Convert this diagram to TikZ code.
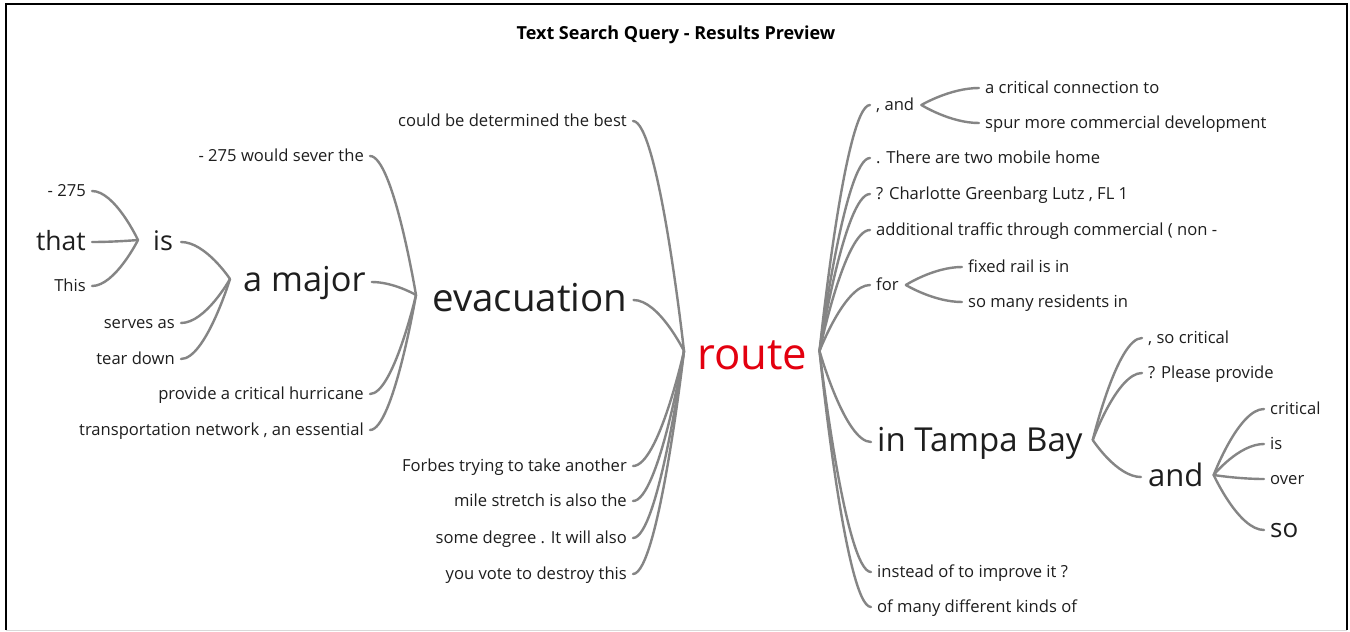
\documentclass[tikz,border=0pt]{standalone}
\usepackage{fontspec}
\setmainfont{Open Sans}
\usetikzlibrary{calc}
\definecolor{linegray}{HTML}{858585}
\definecolor{routered}{HTML}{E3000F}
\definecolor{txt}{HTML}{1E1E1E}
\newcommand\wconn[2]{\draw[conn] (#1) .. controls ($(#1)!0.5!(#1 -| #2)$) and (#2) .. (#2);}
\begin{document}
\begin{tikzpicture}[x=1pt,y=-1pt,
  word/.style={inner sep=0pt, text=txt, font=\fontsize{16.6}{18}\selectfont},
  lw/.style={word, anchor=mid east},
  rw/.style={word, anchor=mid west},
  big/.style={font=\fontsize{#1}{#1}\selectfont},
  conn/.style={draw=linegray, line width=2.4pt, line cap=round},
  titlestyle/.style={inner sep=0pt, text=black, font=\bfseries\fontsize{18}{20}\selectfont}]
\useasboundingbox (0,0) rectangle (1350,632);
\fill[white] (0,0) rectangle (1350,632);
\draw[black, line width=1.6pt] (6,630) -- (6,4) -- (1347,4) -- (1347,630);
\draw[black!15, line width=1pt] (6,630) -- (1347,630);
\node[titlestyle] (title) at (676,35) {Text Search Query - Results Preview};
% ---- left side ----
\node[lw] (n275) at (86,194) {- 275};
\node[lw, big=26.5] (that) at (86,248) {that};
\node[lw] (this) at (86,289) {This};
\node[rw, big=27] (is) at (153,248) {is};
\node[lw] (serves) at (175,326) {serves as};
\node[lw] (tear) at (175,362) {tear down};
\node[rw, big=34.3] (amajor) at (243,289) {a major};
\node[lw] (sever) at (364,159) {- 275 would sever the};
\node[lw] (provide) at (364,397) {provide a critical hurricane};
\node[lw] (transp) at (364,433) {transportation network , an essential};
\node[lw] (could) at (627,124) {could be determined the best};
\node[rw, big=38.5] (evac) at (432,309) {evacuation};
\node[lw] (forbes) at (627,469) {Forbes trying to take another};
\node[lw] (mile) at (627,504) {mile stretch is also the};
\node[lw] (degree) at (627,541) {some degree . It will also};
\node[lw] (vote) at (627,577) {you vote to destroy this};
\node[rw, big=43.7, text=routered] (route) at (697,367) {route};
% ---- right side ----
\node[rw] (and1) at (876,108) {, and};
\node[rw] (crit1) at (985,91) {a critical connection to};
\node[rw] (spur) at (985,126) {spur more commercial development};
\node[rw] (there) at (876,161) {. There are two mobile home};
\node[rw] (charl) at (876,197) {? Charlotte Greenbarg Lutz , FL 1};
\node[rw] (addit) at (876,233) {additional traffic through commercial ( non -};
\node[rw] (for) at (876,288) {for};
\node[rw] (fixed) at (968,270) {fixed rail is in};
\node[rw] (somany) at (968,305) {so many residents in};
\node[rw, big=33] (tampa) at (877,449) {in Tampa Bay};
\node[rw] (socrit) at (1148,341) {, so critical};
\node[rw] (please) at (1148,376) {? Please provide};
\node[rw, big=31] (and2) at (1148,484) {and};
\node[rw] (critical) at (1270,412) {critical};
\node[rw] (is2) at (1270,447) {is};
\node[rw] (over) at (1270,482) {over};
\node[rw, big=26] (so) at (1270,535) {so};
\node[rw] (instead) at (877,575) {instead of to improve it ?};
\node[rw] (ofmany) at (877,610) {of many different kinds of};
% ---- junction and end points ----
\foreach \n in {n275,this,serves,tear,sever,provide,transp,could,forbes,mile,degree,vote}
  \coordinate (\n-e) at ([xshift=6pt,yshift=3pt]\n.mid east);
\coordinate (that-e) at ([xshift=6pt,yshift=6pt]that.mid east);
\coordinate (amajor-e) at ([xshift=6pt,yshift=7pt]amajor.mid east);
\coordinate (is-e) at ([xshift=8pt,yshift=6pt]is.mid east);
\coordinate (evac-e) at ([xshift=6pt,yshift=9pt]evac.mid east);
\foreach \n in {crit1,spur,there,charl,addit,fixed,somany,socrit,please,critical,is2,over,instead,ofmany,and1,for}
  \coordinate (\n-w) at ([xshift=-6pt,yshift=3pt]\n.mid west);
\coordinate (so-w) at ([xshift=-6pt,yshift=5pt]so.mid west);
\coordinate (tampa-w) at ([xshift=-6pt,yshift=7pt]tampa.mid west);
\coordinate (and2-w) at ([xshift=-7pt,yshift=7pt]and2.mid west);
\coordinate (isJ) at ([xshift=-15pt,yshift=8pt]is.mid west);
\coordinate (amajorJ) at ([xshift=-13pt,yshift=10pt]amajor.mid west);
\coordinate (evacJ) at ([xshift=-16pt,yshift=14pt]evac.mid west);
\coordinate (routeL) at ([xshift=-13pt,yshift=16pt]route.mid west);
\coordinate (routeR) at ([xshift=12pt,yshift=16pt]route.mid east);
\coordinate (and1J) at ([xshift=7pt,yshift=3pt]and1.mid east);
\coordinate (forJ) at ([xshift=7pt,yshift=3pt]for.mid east);
\coordinate (tampaJ) at ([xshift=10pt,yshift=9pt]tampa.mid east);
\coordinate (and2J) at ([xshift=10pt,yshift=9pt]and2.mid east);
% ---- connectors ----
\foreach \c in {n275,that,this} { \wconn{\c-e}{isJ} }
\foreach \c in {is,serves,tear} { \wconn{\c-e}{amajorJ} }
\foreach \c in {sever,amajor,provide,transp} { \wconn{\c-e}{evacJ} }
\foreach \c in {could,evac,forbes,mile,degree,vote} { \wconn{\c-e}{routeL} }
\foreach \c in {and1,there,charl,addit,for,tampa,instead,ofmany} { \wconn{\c-w}{routeR} }
\foreach \c in {crit1,spur} { \wconn{\c-w}{and1J} }
\foreach \c in {fixed,somany} { \wconn{\c-w}{forJ} }
\foreach \c in {socrit,please,and2} { \wconn{\c-w}{tampaJ} }
\foreach \c in {critical,is2,over,so} { \wconn{\c-w}{and2J} }
\end{tikzpicture}
\end{document}
